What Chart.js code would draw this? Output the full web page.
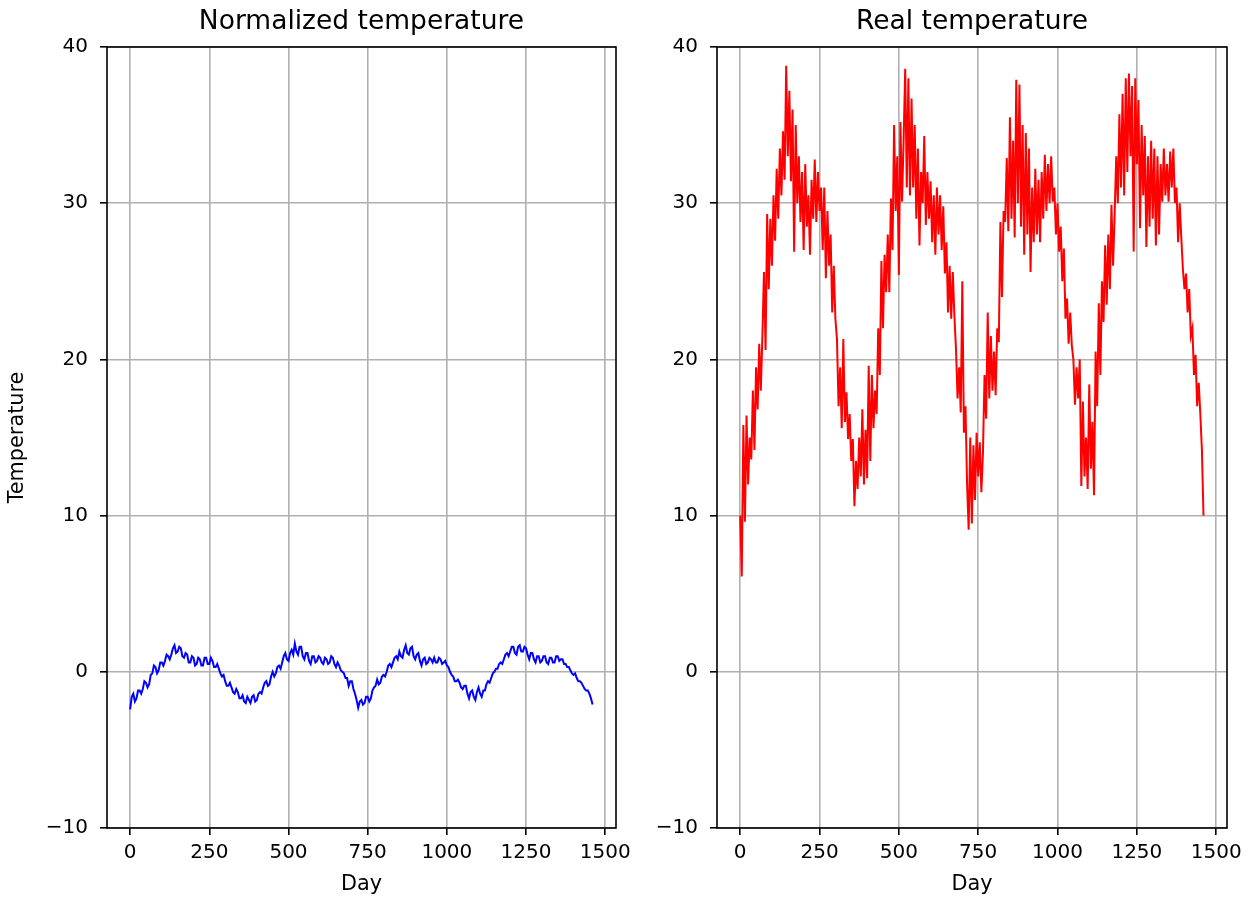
<!DOCTYPE html>
<html>
<head>
<meta charset="utf-8">
<title>Temperature</title>
<script src="https://cdn.jsdelivr.net/npm/chart.js@4.4.1/dist/chart.umd.min.js"></script>
<style>
  html, body { margin: 0; padding: 0; background: #ffffff; }
  body { width: 1257px; height: 897px; position: relative; overflow: hidden; }
  .panel { position: absolute; top: 0; height: 897px; }
  #leftPanel { left: 0; width: 640px; }
  #rightPanel { left: 640px; width: 617px; }
</style>
</head>
<body>
<div class="panel" id="leftPanel"><canvas id="normChart" width="640" height="897"></canvas></div>
<div class="panel" id="rightPanel"><canvas id="realChart" width="617" height="897"></canvas></div>
<script>
// Daily temperature, one value every 5 days (day 0 .. 1460), degrees C
const realStep = 5;
const realTemp = [
  10.0, 6.1, 15.8, 9.6, 16.4, 12.0, 15.0, 13.6, 18.0, 14.2,
  19.5, 16.8, 21.0, 18.0, 21.5, 25.6, 20.6, 29.3, 24.5, 29.0,
  26.0, 30.5, 27.6, 32.2, 29.0, 33.5, 30.5, 34.6, 31.5, 38.8,
  33.0, 37.2, 31.4, 36.0, 26.9, 35.0, 30.0, 33.0, 28.8, 32.0,
  27.0, 32.5, 28.5, 30.5, 26.7, 31.5, 29.0, 32.8, 28.8, 32.0,
  29.5, 31.0, 27.0, 31.0, 25.2, 29.5, 26.0, 28.0, 23.0, 26.0,
  22.6, 21.3, 17.0, 19.5, 15.6, 21.3, 16.0, 17.9, 14.9, 16.5,
  13.5, 14.9, 10.6, 13.5, 11.7, 15.0, 12.5, 16.8, 12.0, 15.5,
  12.4, 19.6, 13.5, 19.0, 15.6, 18.0, 16.5, 22.0, 19.0, 26.3,
  22.0, 26.7, 24.3, 28.0, 24.3, 30.3, 27.0, 35.0, 29.5, 33.0,
  25.4, 35.2, 30.1, 34.0, 38.6, 31.0, 38.0, 30.5, 36.7, 31.0,
  35.0, 29.0, 33.5, 27.3, 32.0, 30.0, 34.3, 28.6, 32.0, 29.0,
  31.4, 27.5, 30.5, 26.7, 31.0, 28.0, 30.5, 27.0, 29.8, 25.5,
  27.5, 23.0, 26.0, 22.6, 25.6, 22.8, 20.7, 17.5, 19.5, 16.6,
  25.0, 15.3, 17.0, 12.0, 9.1, 15.0, 9.5, 14.5, 11.0, 15.3,
  12.5, 14.7, 11.5, 14.0, 19.0, 16.2, 23.0, 17.5, 21.5, 18.0,
  20.5, 17.7, 22.0, 21.1, 28.8, 24.0, 29.5, 28.8, 32.9, 28.2,
  35.5, 29.0, 34.0, 27.8, 37.9, 30.0, 37.6, 28.5, 35.0, 26.7,
  34.5, 28.0, 33.5, 25.6, 31.0, 27.5, 32.2, 28.0, 31.5, 27.5,
  32.0, 29.0, 33.1, 29.5, 32.5, 30.0, 33.0, 30.1, 31.0, 28.0,
  30.0, 26.9, 28.5, 25.0, 27.1, 22.6, 23.9, 21.0, 23.0, 20.9,
  20.0, 17.1, 19.5, 17.5, 20.0, 11.9, 17.3, 12.5, 15.0, 11.7,
  18.4, 13.0, 16.0, 11.3, 20.5, 17.0, 23.6, 19.0, 25.0, 22.4,
  27.3, 23.5, 28.0, 24.5, 29.9, 26.0, 29.3, 33.0, 30.0, 35.7,
  31.0, 37.0, 30.5, 38.0, 32.0, 38.3, 33.0, 37.5, 26.9, 38.0,
  32.5, 36.6, 28.4, 35.0, 30.5, 34.3, 27.2, 33.0, 28.5, 34.0,
  29.0, 33.5, 27.3, 33.0, 28.0, 32.5, 30.1, 33.5, 30.5, 32.5,
  30.1, 33.3, 31.0, 33.5, 30.0, 31.0, 27.5, 30.0, 27.8, 25.8,
  24.5, 25.5, 23.0, 24.5, 21.5, 22.0, 19.0, 20.3, 17.0, 18.5,
  16.5, 14.2, 10.0
];

// Standardised temperature, one value every 5 days (day 0 .. 1460)
const normStep = 5;
const normTemp = [
  -2.4, -1.6, -1.4, -1.9, -1.7, -1.2, -1.2, -1.4, -1.1, -0.6,
  -0.7, -1.0, -0.8, -0.2, -0.1, 0.4, 0.3, -0.1, 0.1, 0.6,
  0.6, 0.4, 0.7, 1.1, 1.0, 0.8, 1.1, 1.5, 1.7, 1.2,
  1.3, 1.6, 1.5, 1.0, 0.9, 1.2, 1.1, 0.6, 0.6, 1.0,
  0.9, 0.4, 0.5, 0.9, 0.8, 0.4, 0.4, 0.9, 0.9, 0.5,
  0.5, 0.9, 0.7, 0.3, 0.3, 0.5, 0.2, -0.1, -0.3, -0.2,
  -0.6, -0.9, -0.9, -0.7, -1.0, -1.3, -1.4, -1.1, -1.3, -1.7,
  -1.7, -1.5, -1.9, -2.0, -1.6, -1.8, -2.0, -1.6, -1.5, -1.9,
  -1.8, -1.4, -1.3, -1.4, -1.0, -0.7, -0.6, -0.9, -0.8, -0.3,
  0.0, -0.3, -0.1, 0.3, 0.4, 0.2, 0.6, 1.0, 1.2, 0.8,
  0.7, 1.2, 1.4, 1.1, 1.8, 1.3, 1.1, 1.6, 1.6, 1.0,
  0.8, 1.2, 1.2, 0.7, 0.5, 1.0, 1.0, 0.6, 0.7, 1.0,
  0.9, 0.6, 0.5, 0.9, 0.8, 0.5, 0.6, 1.0, 0.9, 0.5,
  0.3, 0.6, 0.4, 0.1, 0.0, -0.1, -0.4, -0.4, -0.9, -0.6,
  -0.6, -1.1, -1.4, -1.8, -2.3, -1.9, -1.8, -2.1, -2.0, -1.6,
  -1.6, -1.9, -1.7, -1.2, -1.0, -0.9, -0.5, -0.8, -0.7, -0.3,
  -0.2, -0.3, 0.0, 0.4, 0.5, 0.3, 0.6, 0.9, 1.0, 0.8,
  1.3, 1.0, 0.9, 1.4, 1.7, 1.2, 1.1, 1.5, 1.6, 1.0,
  0.8, 1.1, 1.2, 0.7, 0.4, 0.8, 0.9, 0.5, 0.6, 0.9,
  0.8, 0.6, 0.9, 0.6, 0.6, 0.9, 0.8, 0.5, 0.6, 0.7,
  0.4, 0.3, 0.0, -0.2, -0.3, -0.6, -0.6, -0.5, -0.7, -1.0,
  -1.1, -0.9, -0.9, -1.4, -1.7, -1.3, -1.2, -1.6, -1.8, -1.3,
  -1.0, -1.4, -1.6, -1.2, -1.2, -0.8, -0.6, -0.7, -0.4, -0.1,
  0.0, 0.2, 0.2, 0.5, 0.6, 0.5, 0.8, 1.1, 1.2, 1.0,
  1.3, 1.6, 1.6, 1.2, 1.1, 1.6, 1.7, 1.3, 1.3, 1.6,
  1.5, 1.1, 0.8, 1.2, 1.2, 0.8, 0.6, 1.0, 1.0, 0.6,
  0.7, 1.0, 1.0, 0.6, 0.5, 0.9, 0.9, 0.6, 0.6, 1.0,
  1.0, 0.7, 0.8, 0.8, 0.5, 0.5, 0.3, 0.3, 0.1, -0.1,
  -0.2, -0.1, -0.4, -0.6, -0.6, -0.7, -0.9, -1.1, -1.2, -1.2,
  -1.4, -1.7, -2.1
];

// Axis ticks and limits
const dayTicks = [0, 250, 500, 750, 1000, 1250, 1500];
const tempTicks = [-10, 0, 10, 20, 30, 40];
const dayMin = -73.05, dayMax = 1534.05;
const tempMin = -10, tempMax = 40;

const FONT = "'DejaVu Sans', 'Liberation Sans', sans-serif";

function toPoints(values, step) {
  return values.map((v, i) => ({ x: i * step, y: v }));
}

function fmtNum(v) {
  return v < 0 ? '\u2212' + Math.abs(v) : String(v);
}

// Black box around the plotting area (all four spines)
const frame = {
  id: 'frame',
  afterDatasetsDraw(chart) {
    const { ctx, chartArea: a } = chart;
    ctx.save();
    ctx.strokeStyle = '#000';
    ctx.lineWidth = 1.6;
    ctx.strokeRect(a.left, a.top, a.right - a.left, a.bottom - a.top);
    ctx.restore();
  }
};

function buildChart(canvasId, title, data, step, color, yTitle, yWidth, rightPad) {
  return new Chart(document.getElementById(canvasId), {
    type: 'line',
    data: {
      datasets: [{
        data: toPoints(data, step),
        borderColor: color,
        borderWidth: 2,
        pointRadius: 0,
        tension: 0,
        fill: false
      }]
    },
    options: {
      responsive: false,
      animation: false,
      devicePixelRatio: 1,
      layout: { padding: { left: 0, right: rightPad, top: 0, bottom: 0 } },
      plugins: {
        legend: { display: false },
        tooltip: { enabled: false },
        title: {
          display: true,
          text: title,
          fullSize: false,
          color: '#000',
          font: { family: FONT, size: 26.5, weight: 'normal', lineHeight: 1.2 },
          padding: { top: 5.8, bottom: 9.4 }
        }
      },
      scales: {
        x: {
          type: 'linear',
          min: dayMin,
          max: dayMax,
          afterBuildTicks: s => { s.ticks = dayTicks.map(v => ({ value: v })); },
          afterFit: s => { s.height = 69; },
          border: { display: false },
          grid: { color: '#b0b0b0', lineWidth: 1.6, drawTicks: true, tickLength: 7, tickColor: '#000', tickWidth: 1.6 },
          ticks: { color: '#000', font: { family: FONT, size: 20 }, padding: 6, maxRotation: 0, autoSkip: false, callback: v => fmtNum(v) },
          title: { display: true, text: 'Day', color: '#000', font: { family: FONT, size: 20.8 }, padding: { top: 4, bottom: 0 } }
        },
        y: {
          type: 'linear',
          min: tempMin,
          max: tempMax,
          afterBuildTicks: s => { s.ticks = tempTicks.map(v => ({ value: v })); },
          afterFit: s => { s.width = yWidth; },
          border: { display: false },
          grid: { color: '#b0b0b0', lineWidth: 1.6, drawTicks: true, tickLength: 7, tickColor: '#000', tickWidth: 1.6 },
          ticks: { color: '#000', font: { family: FONT, size: 20 }, padding: 12, callback: v => fmtNum(v) },
          title: { display: yTitle, text: 'Temperature', color: '#000', font: { family: FONT, size: 20.8 }, padding: { top: 5.1, bottom: 0 } }
        }
      }
    },
    plugins: [frame]
  });
}

buildChart('normChart', 'Normalized temperature', normTemp, normStep, '#0000ff', true, 107, 24);
buildChart('realChart', 'Real temperature', realTemp, realStep, '#ff0000', false, 77, 30);
</script>
</body>
</html>
